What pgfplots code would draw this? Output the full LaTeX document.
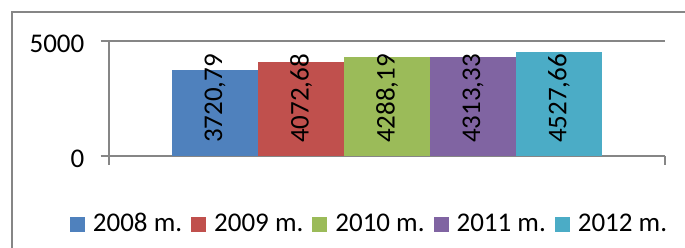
\documentclass[border=0pt]{standalone}
\usepackage{fontspec}
\setmainfont{Carlito}
\usepackage{pgfplots}
\pgfplotsset{compat=1.18}
\definecolor{axgray}{HTML}{868686}
\definecolor{c1}{HTML}{4F81BD}
\definecolor{c2}{HTML}{C0504D}
\definecolor{c3}{HTML}{9BBB59}
\definecolor{c4}{HTML}{8064A2}
\definecolor{c5}{HTML}{4BACC6}
\newcommand{\cf}{\fontsize{27bp}{32bp}\selectfont}
\begin{document}
\cf
\begin{tikzpicture}
\useasboundingbox (0,0) rectangle (685bp,248bp);
\draw[axgray, line width=1.3bp] (12bp,236bp) -- (686bp,236bp);
\draw[axgray, line width=1.3bp] (12bp,236.65bp) -- (12bp,-1bp);
\begin{axis}[
  at={(109bp,92bp)}, anchor=south west,
  scale only axis, width=556bp, height=115bp,
  xmin=-3.2326, xmax=3.2326, ymin=0, ymax=5000,
  axis x line*=bottom, axis y line*=left,
  axis line style={axgray, line width=1.3bp, -},
  xtick={-3.2325,3.2325}, xticklabels={},
  ytick={0,5000},
  ymajorgrids, grid style={axgray, line width=1.3bp},
  tick style={axgray, line width=1.3bp},
  tick align=outside, major tick length=8.5bp,
  /pgf/number format/1000 sep={},
  /pgf/number format/assume math mode=true,
  every tick label/.append style={font=\cf, text=black},
  yticklabel style={xshift=-7bp, yshift=-3bp},
  bar width=1,
  visualization depends on=rawy \as \ry,
  nodes near coords={\pgfmathprintnumber[fixed,fixed zerofill,precision=2,use comma,1000 sep={},assume math mode=true]{\pgfplotspointmeta}},
  every node near coord/.append style={yshift={(2500-\ry)*0.023bp}, rotate=90, anchor=center, text=black, font=\cf},
  legend columns=5,
  legend style={draw=none, fill=none, at={(0.4667,-0.595)}, anchor=center,
    font=\cf, inner sep=0pt, nodes={inner sep=0pt},
    /tikz/every odd column/.append style={column sep=8bp},
    /tikz/every even column/.append style={column sep=9bp}},
  legend image code/.code={\fill[#1, draw=none] (0bp,-8bp) rectangle (15bp,7bp);},
]
\addplot[ybar, fill=c1, draw=none] coordinates {(-2,3720.79)};
\addlegendentry{2008 m.}
\addplot[ybar, fill=c2, draw=none] coordinates {(-1,4072.68)};
\addlegendentry{2009 m.}
\addplot[ybar, fill=c3, draw=none] coordinates {(0,4288.19)};
\addlegendentry{2010 m.}
\addplot[ybar, fill=c4, draw=none] coordinates {(1,4313.33)};
\addlegendentry{2011 m.}
\addplot[ybar, fill=c5, draw=none] coordinates {(2,4527.66)};
\addlegendentry{2012 m.}
\end{axis}
\end{tikzpicture}
\end{document}
